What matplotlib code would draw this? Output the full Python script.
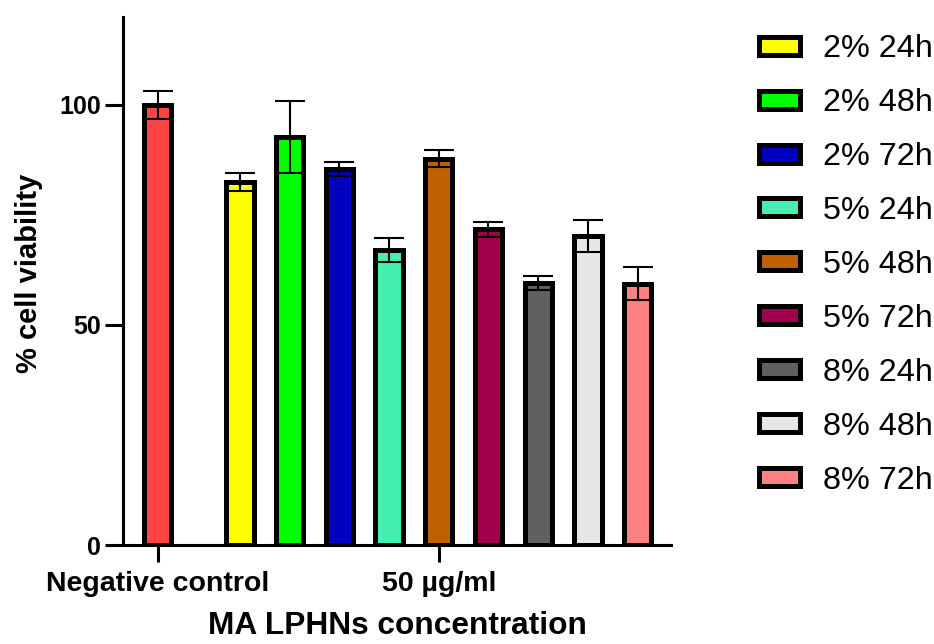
import numpy as np
import matplotlib
matplotlib.use('Agg')
from matplotlib import pyplot as plt

plt.rcParams['font.family'] = ['Liberation Sans', 'DejaVu Sans']

# data
labels = ['Negative control', '2% 24h', '2% 48h', '2% 72h', '5% 24h', '5% 48h',
          '5% 72h', '8% 24h', '8% 48h', '8% 72h']
means = [100.0, 82.5, 92.7, 85.5, 67.0, 87.8, 71.7, 59.6, 70.2, 59.4]
errs = [3.2, 2.0, 8.2, 1.6, 2.8, 1.9, 1.8, 1.6, 3.6, 3.8]
colors = ['#FF4444', '#FFFF00', '#00FF00', '#0000C0', '#44F0B0', '#C06000',
          '#A0004C', '#606060', '#E6E6E6', '#FF8080']
group_ticks = ['Negative control', '50 µg/ml']

# positions: control alone, then the nine treatments as one group
pos = [0.0] + [1.65 + i for i in range(9)]

fig = plt.figure(figsize=(9.34, 6.44), dpi=100)
ax = fig.add_axes([0.1317, 0.1537, 0.5867, 0.82])

bars = ax.bar(pos, means, width=0.55, color=colors, edgecolor='black',
              linewidth=3.6, zorder=2)
ax.errorbar(pos, means, yerr=errs, fmt='none', ecolor='black',
            elinewidth=1.5, capsize=11, capthick=1.5, zorder=3)

ax.set_xlim(-0.70, 10.32)
ax.set_ylim(0, 120)
ax.set_yticks([0, 50, 100])
ax.set_xticks([pos[0], pos[5]])
ax.set_xticklabels(group_ticks)

for s in ['top', 'right']:
    ax.spines[s].set_visible(False)
for s in ['left', 'bottom']:
    ax.spines[s].set_linewidth(2.2)

ax.tick_params(axis='y', length=13, width=2.2, labelsize=18, pad=3)
ax.tick_params(axis='x', length=12, width=2.2, labelsize=20.5, pad=7)
for t in ax.get_xticklabels() + ax.get_yticklabels():
    t.set_fontweight('bold')

ax.set_ylabel('% cell viability', fontsize=21, fontweight='bold')
ax.yaxis.set_label_coords(-0.146, 0.515)
ax.set_xlabel('MA LPHNs concentration', fontsize=22.8, fontweight='bold',
              labelpad=10)

leg = ax.legend(bars[1:], labels[1:], loc='upper left',
                bbox_to_anchor=(0.813, 0.947), bbox_transform=fig.transFigure,
                frameon=False, fontsize=23.3, handlelength=1.25, handleheight=0.48,
                handletextpad=0.72, labelspacing=0.74, borderaxespad=0,
                borderpad=0)

plt.savefig('out.png', dpi=100)
